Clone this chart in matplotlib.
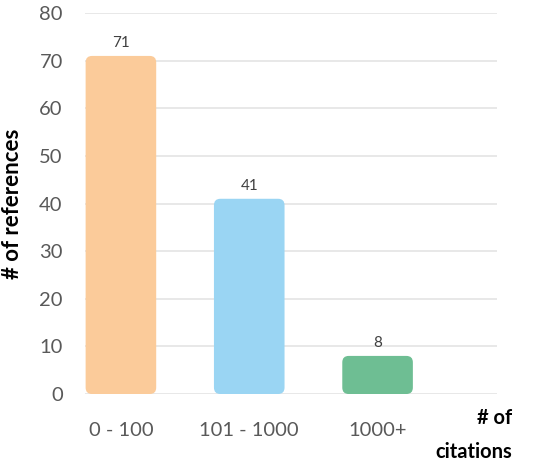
import matplotlib
matplotlib.use("Agg")
from matplotlib import pyplot as plt
from matplotlib.patches import FancyBboxPatch

categories = ["0 - 100", "101 - 1000", "1000+"]
counts = [71, 41, 8]
colors = ["#FBCB9A", "#9AD5F3", "#6EBE93"]

plt.rcParams['font.family'] = ['Lato', 'DejaVu Sans']

fig = plt.figure(figsize=(5.5, 4.67), dpi=100)
ax = fig.add_axes([0.1545, 0.1563, 0.749, 0.8157])

x = list(range(len(categories)))
bars = ax.bar(x, counts, width=0.55, color=colors, zorder=3)

# swap the plain bars for rounded ones
for b in bars:
    bx, by = b.get_x(), b.get_y()
    bw, bh = b.get_width(), b.get_height()
    patch = FancyBboxPatch((bx, by), bw, bh,
                           boxstyle="round,pad=0,rounding_size=0.05",
                           mutation_aspect=27,
                           facecolor=b.get_facecolor(), edgecolor='none', zorder=3)
    b.remove()
    ax.add_patch(patch)

for xi, v in zip(x, counts):
    ax.text(xi, v + 1.3, str(v), ha='center', va='bottom', fontsize=11, color='#404040')

ax.set_xlim(-0.28, 2.93)
ax.set_ylim(0, 80)
ax.set_yticks(range(0, 81, 10))
ax.set_xticks(x)
ax.set_xticklabels(categories)
ax.tick_params(axis='both', length=0, labelsize=14.5, labelcolor='#595959')
ax.tick_params(axis='y', pad=16)
ax.tick_params(axis='x', pad=20)
ax.grid(axis='y', color='#e4e4e4', linewidth=1.2, zorder=0)
ax.set_axisbelow(True)
for s in ax.spines.values():
    s.set_visible(False)

ax.set_ylabel("# of references", fontsize=16, fontweight='bold', labelpad=12)
fig.text(0.932, 0.068, "# of\ncitations", ha='right', va='center', fontsize=14.5,
         fontweight='bold', linespacing=1.85)

fig.savefig("out.png", dpi=100)
